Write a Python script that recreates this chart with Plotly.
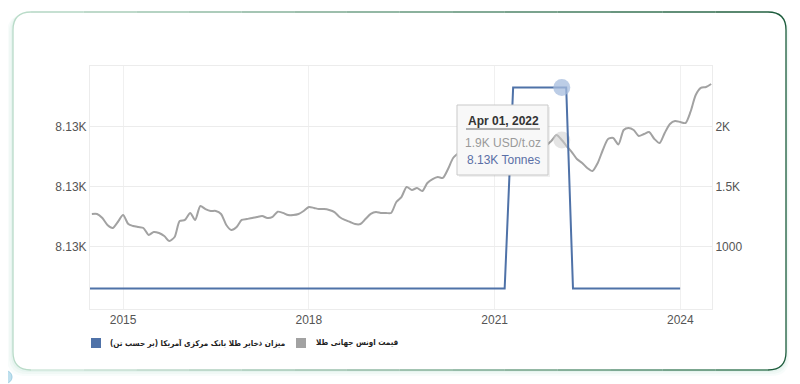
import plotly.graph_objects as go
import pandas as pd

# ---------------- data ----------------
gold_dates = pd.date_range("2014-07-01", periods=121, freq="MS")
gold_price = [1271, 1271, 1237, 1179, 1154, 1204, 1262, 1187, 1171, 1162,
              1154, 1096, 1121, 1112, 1087, 1046, 1079, 1212, 1221, 1279,
              1221, 1337, 1312, 1296, 1296, 1271, 1179, 1137, 1162, 1221,
              1229, 1237, 1246, 1254, 1237, 1246, 1290, 1280, 1262, 1262,
              1271, 1296, 1329, 1321, 1312, 1312, 1304, 1287, 1246, 1221,
              1204, 1187, 1187, 1229, 1271, 1287, 1279, 1279, 1279, 1371,
              1412, 1496, 1471, 1487, 1462, 1529, 1562, 1579, 1571, 1646,
              1737, 1779,
              1830, 1900, 1960, 1920, 1880, 1870, 1860, 1840, 1790, 1730,
              1760, 1800, 1840, 1810, 1790, 1800, 1840,
              1879, 1929, 1887, 1837, 1787, 1729, 1696, 1654, 1629, 1696, 1804,
              1896, 1904, 1850, 1971, 1988, 1971, 1921, 1937, 1954, 1896,
              1862, 1946, 2021, 2046, 2037, 2029, 2121, 2262, 2321, 2329, 2354]

reserve_dates = ["2014-06-20", "2021-03-01", "2021-04-20", "2022-02-27", "2022-04-08", "2023-12-31"]
reserve_tonnes = [8133.463, 8133.463, 8133.4965, 8133.4965, 8133.463, 8133.463]

hover_date = "2022-02-01"
hover_gold = 1887
hover_reserve = 8133.4965

x_tick_vals = ["2015-01-01", "2018-01-01", "2021-01-01", "2024-01-01"]
x_tick_text = ["2015", "2018", "2021", "2024"]
left_tick_vals = [8133.47, 8133.48, 8133.49]
left_tick_text = ["8.13K", "8.13K", "8.13K"]
right_tick_vals = [1000, 1500, 2000]
right_tick_text = ["1000", "1.5K", "2K"]

legend_names = ["میزان ذخایر طلا بانک مرکزی آمریکا (بر حسب تن)", "قیمت اونس جهانی طلا"]
tooltip_lines = ["Apr 01, 2022", "1.9K USD/t.oz", "8.13K Tonnes"]

# ---------------- layout helpers ----------------
W, H = 800, 384
PL, PR, PT, PB = 90, 712, 66, 309   # plot area in screen pixels
PAGE_OFF = 8                         # browser body margin

def fx(x):
    return (x - PL) / (PR - PL)

def fy(y):
    return (PB - y) / (PB - PT)

BLUE = "#4f72a8"
GRAY = "#a2a2a2"

fig = go.Figure()
fig.add_trace(go.Scatter(x=gold_dates, y=gold_price, mode="lines", yaxis="y",
                         line=dict(color=GRAY, width=2, shape="spline", smoothing=0.7),
                         showlegend=False, hoverinfo="skip"))
fig.add_trace(go.Scatter(x=[hover_date], y=[hover_gold], mode="markers", yaxis="y",
                         marker=dict(size=17, color="rgba(205,205,205,0.55)"),
                         showlegend=False, hoverinfo="skip"))
fig.add_trace(go.Scatter(x=reserve_dates, y=reserve_tonnes, mode="lines", yaxis="y2",
                         line=dict(color=BLUE, width=2),
                         showlegend=False, hoverinfo="skip"))
fig.add_trace(go.Scatter(x=[hover_date], y=[hover_reserve], mode="markers", yaxis="y2",
                         marker=dict(size=17, color="rgba(165,188,222,0.75)"),
                         showlegend=False, hoverinfo="skip"))

shapes = []

def rounded(x0, y0, x1, y1, r):
    return ("M {a},{b} L {c},{b} Q {d},{b} {d},{e} L {d},{f} Q {d},{g} {c},{g} "
            "L {a},{g} Q {h},{g} {h},{f} L {h},{e} Q {h},{b} {a},{b} Z").format(
        a=fx(x0 + r), b=fy(y0), c=fx(x1 - r), d=fx(x1), e=fy(y0 + r),
        f=fy(y1 - r), g=fy(y1), h=fx(x0))

# card shadow + fill
for off, op in [(6, 0.10), (4, 0.14), (2, 0.18)]:
    shapes.append(dict(type="path", xref="paper", yref="paper", layer="below",
                       path=rounded(13 - off, 12 + off / 2, 786 + off / 2, 370 + off, 18),
                       fillcolor="rgba(190,225,215,%s)" % op, line=dict(width=0)))
shapes.append(dict(type="path", xref="paper", yref="paper", layer="below",
                   path=rounded(13, 12, 786, 370, 18), fillcolor="white",
                   line=dict(width=0)))

def mix(c1, c2, t):
    a = [int(c1[i:i + 2], 16) for i in (1, 3, 5)]
    b = [int(c2[i:i + 2], 16) for i in (1, 3, 5)]
    return "rgb(%d,%d,%d)" % tuple(round(a[k] + (b[k] - a[k]) * t) for k in range(3))

LIGHT, DARK = "#b9dbc8", "#1d5c3c"
L, R, T, B, r = 13, 786, 12, 370, 18
n = 14
for i in range(n):
    xa = L + r + (R - L - 2 * r) * i / n
    xb = L + r + (R - L - 2 * r) * (i + 1) / n
    col = mix(LIGHT, DARK, (i + 0.5) / n)
    for yy, c in [(T, col), (B, mix("#d6ebe0", "#3f7d5c", (i + 0.5) / n))]:
        shapes.append(dict(type="line", xref="paper", yref="paper", layer="below",
                           x0=fx(xa), x1=fx(xb), y0=fy(yy), y1=fy(yy),
                           line=dict(color=c, width=1.3)))
shapes.append(dict(type="path", xref="paper", yref="paper", layer="below",
                   path="M {a},{b} Q {c},{b} {c},{d} L {c},{e} Q {c},{f} {a},{f}".format(
                       a=fx(R - r), b=fy(T), c=fx(R), d=fy(T + r), e=fy(B - r), f=fy(B)),
                   line=dict(color=DARK, width=1.3)))
shapes.append(dict(type="path", xref="paper", yref="paper", layer="below",
                   path="M {a},{b} Q {c},{b} {c},{d} L {c},{e} Q {c},{f} {a},{f}".format(
                       a=fx(L + r), b=fy(T), c=fx(L), d=fy(T + r), e=fy(B - r), f=fy(B)),
                   line=dict(color=LIGHT, width=1.3)))

# small logo bottom-left
shapes.append(dict(type="circle", xref="paper", yref="paper", layer="below",
                   x0=fx(1), x1=fx(12), y0=fy(371), y1=fy(383),
                   fillcolor="#bfe0ee", line=dict(color="#9fcfe3", width=1)))

# tooltip
shapes.append(dict(type="rect", xref="paper", yref="paper",
                   x0=fx(459), x1=fx(550), y0=fy(107), y1=fy(177),
                   fillcolor="rgba(0,0,0,0.06)", line=dict(width=0)))
shapes.append(dict(type="rect", xref="paper", yref="paper",
                   x0=fx(457), x1=fx(548), y0=fy(105), y1=fy(175),
                   fillcolor="#f8f8f8", line=dict(color="#c9c9c9", width=1)))
shapes.append(dict(type="line", xref="paper", yref="paper",
                   x0=fx(466), x1=fx(540), y0=fy(129), y1=fy(129),
                   line=dict(color="#666666", width=1)))

# legend squares
shapes.append(dict(type="rect", xref="paper", yref="paper",
                   x0=fx(91), x1=fx(101), y0=fy(338), y1=fy(348),
                   fillcolor=BLUE, line=dict(width=0)))
shapes.append(dict(type="rect", xref="paper", yref="paper",
                   x0=fx(296), x1=fx(306), y0=fy(338), y1=fy(348),
                   fillcolor=GRAY, line=dict(width=0)))

legfont = dict(family="DejaVu Sans Condensed, DejaVu Sans", size=8, color="#222222")
annotations = [
    dict(x=fx(503), y=fy(121), xref="paper", yref="paper", text="<b>%s</b>" % tooltip_lines[0],
         showarrow=False, font=dict(family="Liberation Sans, Arial", size=12, color="#333333"),
         xanchor="center", yanchor="middle"),
    dict(x=fx(503), y=fy(143), xref="paper", yref="paper", text=tooltip_lines[1],
         showarrow=False, font=dict(family="Liberation Sans, Arial", size=12, color="#9a9a9a"),
         xanchor="center", yanchor="middle"),
    dict(x=fx(503), y=fy(160), xref="paper", yref="paper", text=tooltip_lines[2],
         showarrow=False, font=dict(family="Liberation Sans, Arial", size=12, color="#5a6fa6"),
         xanchor="center", yanchor="middle"),
    dict(x=fx(108), y=fy(343), xref="paper", yref="paper", text="<b>%s</b>" % legend_names[0],
         showarrow=False, font=legfont, xanchor="left", yanchor="middle"),
    dict(x=fx(314), y=fy(343), xref="paper", yref="paper", text="<b>%s</b>" % legend_names[1],
         showarrow=False, font=legfont, xanchor="left", yanchor="middle"),
]

tickfont = dict(family="Liberation Sans, Arial", size=12, color="#555555")
fig.update_layout(
    width=W, height=H,
    margin=dict(l=PL - PAGE_OFF, r=W - PR + PAGE_OFF, t=PT - PAGE_OFF, b=H - PB + PAGE_OFF),
    paper_bgcolor="white", plot_bgcolor="rgba(0,0,0,0)",
    showlegend=False, hovermode=False,
    xaxis=dict(type="date", range=["2014-06-20", "2024-07-06"],
               tickvals=x_tick_vals, ticktext=x_tick_text, tickfont=tickfont,
               showgrid=True, gridcolor="#f0f0f0", gridwidth=1,
               showline=True, linecolor="#ececec", mirror=True,
               zeroline=False, ticks=""),
    yaxis=dict(side="right", range=[479, 2504], tickvals=right_tick_vals,
               ticktext=right_tick_text, tickfont=tickfont,
               showgrid=True, gridcolor="#ececec", zeroline=False,
               showline=True, linecolor="#ececec", ticks=""),
    yaxis2=dict(side="left", overlaying="y", range=[8133.4596, 8133.5001],
                tickvals=left_tick_vals, ticktext=left_tick_text, tickfont=tickfont,
                showgrid=False, zeroline=False, showline=True, linecolor="#ececec",
                ticks=""),
    shapes=shapes, annotations=annotations,
)

fig.write_html("out.html")
